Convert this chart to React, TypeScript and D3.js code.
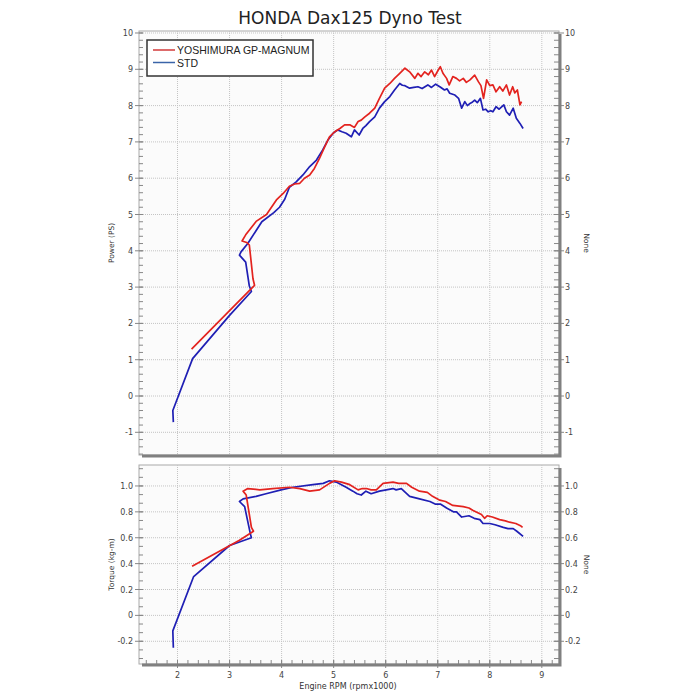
import * as d3 from "d3";
import { useEffect, useRef } from "react";

type Pt = [number, number];

// rpm (x1000), value
const stdPower: Pt[] = [
  [1.92, -0.72], [1.91, -0.4], [2.29, 1.03], [3.0, 2.22], [3.42, 2.88], [3.38, 3.03],
  [3.31, 3.69], [3.19, 3.88], [3.22, 3.97], [3.35, 4.2], [3.62, 4.8], [3.85, 5.05],
  [3.96, 5.2], [4.06, 5.42], [4.15, 5.75], [4.28, 5.9], [4.41, 6.09], [4.54, 6.32],
  [4.67, 6.5], [4.79, 6.78], [4.89, 7.05], [4.99, 7.24], [5.08, 7.33], [5.16, 7.28],
  [5.24, 7.24], [5.34, 7.14], [5.4, 7.33], [5.49, 7.19], [5.56, 7.37], [5.62, 7.45],
  [5.69, 7.56], [5.79, 7.69], [5.88, 7.93], [5.98, 8.11], [6.08, 8.25], [6.17, 8.43],
  [6.27, 8.61], [6.32, 8.56], [6.37, 8.55], [6.46, 8.48], [6.54, 8.5], [6.62, 8.52],
  [6.7, 8.47], [6.81, 8.57], [6.88, 8.5], [6.96, 8.59], [7.04, 8.52], [7.13, 8.43],
  [7.18, 8.46], [7.23, 8.34], [7.33, 8.29], [7.4, 8.2], [7.46, 7.93], [7.52, 8.11],
  [7.57, 8.0], [7.62, 8.06], [7.67, 8.1], [7.71, 8.15], [7.76, 8.08], [7.82, 8.2],
  [7.87, 7.88], [7.92, 7.9], [7.97, 7.83], [8.02, 7.86], [8.06, 7.83], [8.12, 7.97],
  [8.18, 7.9], [8.27, 8.02], [8.32, 7.83], [8.38, 7.74], [8.45, 7.93], [8.51, 7.65],
  [8.58, 7.51], [8.64, 7.37],
];

const yoshPower: Pt[] = [
  [2.27, 1.29], [3.0, 2.35], [3.48, 3.05], [3.45, 3.23], [3.38, 4.16], [3.33, 4.23],
  [3.24, 4.27], [3.31, 4.44], [3.51, 4.81], [3.71, 5.0], [3.9, 5.4], [4.03, 5.58],
  [4.15, 5.78], [4.25, 5.84], [4.35, 5.86], [4.44, 6.0], [4.54, 6.09], [4.63, 6.27],
  [4.73, 6.55], [4.83, 6.87], [4.92, 7.14], [5.02, 7.28], [5.12, 7.37], [5.21, 7.47],
  [5.31, 7.47], [5.4, 7.4], [5.47, 7.56], [5.53, 7.6], [5.6, 7.69], [5.69, 7.79],
  [5.79, 7.93], [5.88, 8.2], [5.98, 8.48], [6.08, 8.61], [6.17, 8.75], [6.27, 8.89],
  [6.37, 9.03], [6.46, 8.93], [6.56, 8.75], [6.62, 8.89], [6.68, 8.8], [6.75, 8.93],
  [6.82, 8.85], [6.88, 8.98], [6.94, 8.8], [7.01, 8.98], [7.05, 9.07], [7.1, 8.89],
  [7.17, 8.75], [7.22, 8.57], [7.29, 8.8], [7.36, 8.75], [7.42, 8.68], [7.49, 8.75],
  [7.55, 8.64], [7.62, 8.71], [7.71, 8.84], [7.78, 8.66], [7.83, 8.55], [7.88, 8.2],
  [7.94, 8.71], [8.0, 8.55], [8.06, 8.57], [8.12, 8.38], [8.19, 8.52], [8.25, 8.4],
  [8.32, 8.57], [8.38, 8.29], [8.44, 8.52], [8.48, 8.35], [8.53, 8.43], [8.58, 8.02],
  [8.61, 8.11],
];

const stdTorque: Pt[] = [
  [1.92, -0.25], [1.91, -0.12], [2.31, 0.3], [3.0, 0.54], [3.42, 0.6], [3.4, 0.63],
  [3.29, 0.84], [3.19, 0.88], [3.26, 0.9], [3.51, 0.92], [3.7, 0.94], [3.99, 0.97],
  [4.22, 0.99], [4.6, 1.01], [4.8, 1.02], [4.92, 1.04], [5.05, 1.03], [5.24, 0.99],
  [5.37, 0.96], [5.45, 0.94], [5.53, 0.93], [5.62, 0.96], [5.72, 0.94], [5.88, 0.96],
  [6.01, 0.97], [6.14, 0.98], [6.2, 0.97], [6.3, 0.98], [6.46, 0.92], [6.65, 0.9],
  [6.85, 0.88], [6.95, 0.86], [7.05, 0.86], [7.17, 0.83], [7.3, 0.8], [7.36, 0.8],
  [7.46, 0.76], [7.6, 0.77], [7.7, 0.75], [7.81, 0.74], [7.87, 0.71], [8.0, 0.71],
  [8.1, 0.7], [8.26, 0.68], [8.35, 0.67], [8.45, 0.67], [8.52, 0.65], [8.64, 0.61],
];

const yoshTorque: Pt[] = [
  [2.28, 0.38], [3.19, 0.58], [3.46, 0.65], [3.42, 0.68], [3.32, 0.93], [3.26, 0.96],
  [3.35, 0.98], [3.58, 0.97], [3.83, 0.98], [4.15, 0.99], [4.35, 0.98], [4.54, 0.96],
  [4.73, 0.97], [4.92, 1.02], [5.02, 1.04], [5.15, 1.03], [5.31, 1.01], [5.47, 0.97],
  [5.55, 0.98], [5.63, 0.98], [5.72, 0.97], [5.82, 0.97], [5.95, 1.02], [6.14, 1.03],
  [6.25, 1.02], [6.4, 1.02], [6.5, 0.99], [6.65, 0.96], [6.8, 0.95], [6.9, 0.92],
  [7.04, 0.89], [7.15, 0.88], [7.29, 0.85], [7.49, 0.84], [7.6, 0.83], [7.68, 0.81],
  [7.84, 0.78], [7.9, 0.75], [7.95, 0.77], [8.05, 0.76], [8.19, 0.74], [8.3, 0.73],
  [8.38, 0.72], [8.5, 0.71], [8.6, 0.69], [8.63, 0.68],
];

const rpmTicks = [2, 3, 4, 5, 6, 7, 8, 9];
const powerTicks = [-1, 0, 1, 2, 3, 4, 5, 6, 7, 8, 9, 10];
const torqueTicks = [-0.2, 0, 0.2, 0.4, 0.6, 0.8, 1.0];
const seriesNames = ["YOSHIMURA GP-MAGNUM", "STD"];

const RED = "#e3231f";
const BLUE = "#1f1fb4";
const FONT = "'DejaVu Sans', sans-serif";

export default function App() {
  const svgRef = useRef<SVGSVGElement>(null);

  useEffect(() => {
    if (!svgRef.current) return;
    const svg = d3.select(svgRef.current);
    svg.selectAll("*").remove();

    const left = 139;
    const right = 559;

    const x = d3.scaleLinear().domain([1.26, 9.33]).range([left, right]);

    svg.append("rect").attr("width", 700).attr("height", 700).attr("fill", "#fff");

    svg
      .append("text")
      .attr("x", 350)
      .attr("y", 24)
      .attr("text-anchor", "middle")
      .attr("font-family", FONT)
      .attr("font-size", 17)
      .attr("fill", "#222")
      .text("HONDA Dax125 Dyno Test");

    const panel = (
      top: number,
      bottom: number,
      y: d3.ScaleLinear<number, number>,
      ticks: number[],
      minorStep: number,
      fmt: (v: number) => string,
      title: string,
      showX: boolean
    ) => {
      const g = svg.append("g");
      g.append("rect")
        .attr("x", left)
        .attr("y", top)
        .attr("width", right - left)
        .attr("height", bottom - top)
        .attr("fill", "#fbfbfb")
        .attr("stroke", "#aaa")
        .attr("stroke-width", 1);

      // grid
      g.selectAll(".vg")
        .data(rpmTicks)
        .enter()
        .append("line")
        .attr("x1", (d) => x(d))
        .attr("x2", (d) => x(d))
        .attr("y1", top)
        .attr("y2", bottom)
        .attr("stroke", "#c4c4c4")
        .attr("stroke-dasharray", "1,1");
      g.selectAll(".hg")
        .data(ticks)
        .enter()
        .append("line")
        .attr("x1", left)
        .attr("x2", right)
        .attr("y1", (d) => y(d))
        .attr("y2", (d) => y(d))
        .attr("stroke", "#c4c4c4")
        .attr("stroke-dasharray", "1,1");

      // minor ticks
      const [d0, d1] = y.domain();
      const minors: number[] = [];
      for (let v = ticks[0]; v >= d0; v -= minorStep) minors.push(v);
      for (let v = ticks[0] + minorStep; v <= d1; v += minorStep) minors.push(v);
      g.selectAll(".ml")
        .data(minors)
        .enter()
        .append("line")
        .attr("x1", left)
        .attr("x2", left + 4)
        .attr("y1", (d) => y(d))
        .attr("y2", (d) => y(d))
        .attr("stroke", "#888");
      g.selectAll(".mr")
        .data(minors)
        .enter()
        .append("line")
        .attr("x1", right - 5)
        .attr("x2", right)
        .attr("y1", (d) => y(d))
        .attr("y2", (d) => y(d))
        .attr("stroke", "#888");
      // major ticks
      g.selectAll(".tl")
        .data(ticks)
        .enter()
        .append("line")
        .attr("x1", left - 4)
        .attr("x2", left + 4)
        .attr("y1", (d) => y(d))
        .attr("y2", (d) => y(d))
        .attr("stroke", "#888");
      g.selectAll(".tr")
        .data(ticks)
        .enter()
        .append("line")
        .attr("x1", right - 5)
        .attr("x2", right + 5)
        .attr("y1", (d) => y(d))
        .attr("y2", (d) => y(d))
        .attr("stroke", "#888");

      g.selectAll(".ll")
        .data(ticks)
        .enter()
        .append("text")
        .attr("x", left - 6)
        .attr("y", (d) => y(d) + 3)
        .attr("text-anchor", "end")
        .attr("font-family", FONT)
        .attr("font-size", 8)
        .attr("fill", "#444")
        .text((d) => fmt(d));
      g.selectAll(".lr")
        .data(ticks)
        .enter()
        .append("text")
        .attr("x", right + 6)
        .attr("y", (d) => y(d) + 3)
        .attr("text-anchor", "start")
        .attr("font-family", FONT)
        .attr("font-size", 8)
        .attr("fill", "#444")
        .text((d) => fmt(d));

      const mid = (top + bottom) / 2;
      g.append("text")
        .attr("transform", `translate(114,${mid}) rotate(-90)`)
        .attr("text-anchor", "middle")
        .attr("font-family", FONT)
        .attr("font-size", 7.5)
        .attr("fill", "#333")
        .text(title);
      g.append("text")
        .attr("transform", `translate(584,${mid}) rotate(90)`)
        .attr("text-anchor", "middle")
        .attr("font-family", FONT)
        .attr("font-size", 7.5)
        .attr("fill", "#333")
        .text("None");

      if (showX) {
        const xm = d3.range(1.4, 9.3, 0.2);
        g.selectAll(".xm")
          .data(xm)
          .enter()
          .append("line")
          .attr("x1", (d) => x(d))
          .attr("x2", (d) => x(d))
          .attr("y1", bottom - 4)
          .attr("y2", bottom)
          .attr("stroke", "#888");
        g.selectAll(".xt")
          .data(rpmTicks)
          .enter()
          .append("line")
          .attr("x1", (d) => x(d))
          .attr("x2", (d) => x(d))
          .attr("y1", bottom - 4)
          .attr("y2", bottom + 4)
          .attr("stroke", "#888");
        g.selectAll(".xl")
          .data(rpmTicks)
          .enter()
          .append("text")
          .attr("x", (d) => x(d))
          .attr("y", bottom + 14)
          .attr("text-anchor", "middle")
          .attr("font-family", FONT)
          .attr("font-size", 8)
          .attr("fill", "#444")
          .text((d) => String(d));
        g.append("text")
          .attr("x", 348)
          .attr("y", bottom + 25)
          .attr("text-anchor", "middle")
          .attr("font-family", FONT)
          .attr("font-size", 8)
          .attr("fill", "#333")
          .text("Engine RPM (rpmx1000)");
      }

      // shadow edge right/bottom
      g.append("path")
        .attr("d", `M${right + 1},${top + 3}V${bottom + 1}H${left + 3}`)
        .attr("fill", "none")
        .attr("stroke", "#808080")
        .attr("stroke-width", 3);
      return g;
    };

    const yP = d3.scaleLinear().domain([-1.625, 10.055]).range([455, 31]);
    const yT = d3.scaleLinear().domain([-0.3756, 1.162]).range([664, 465]);

    const gP = panel(yP.range()[1], yP.range()[0], yP, powerTicks, 0.2, (v) => String(v), "Power (PS)", false);
    const gT = panel(465, 664, yT, torqueTicks, 0.2 / 3, (v) => (v === 0 ? "0" : v.toFixed(1)), "Torque (kg-m)", true);

    const drawLine = (g: typeof gP, data: Pt[], y: d3.ScaleLinear<number, number>, color: string) => {
      const line = d3
        .line<Pt>()
        .x((d) => x(d[0]))
        .y((d) => y(d[1]));
      g.append("path")
        .attr("d", line(data) ?? "")
        .attr("fill", "none")
        .attr("stroke", color)
        .attr("stroke-width", 1.7)
        .attr("stroke-linejoin", "round");
    };

    drawLine(gP, stdPower, yP, BLUE);
    drawLine(gP, yoshPower, yP, RED);
    drawLine(gT, stdTorque, yT, BLUE);
    drawLine(gT, yoshTorque, yT, RED);

    // legend
    const lg = svg.append("g");
    lg.append("rect")
      .attr("x", 147)
      .attr("y", 40)
      .attr("width", 166)
      .attr("height", 36)
      .attr("fill", "#fff")
      .attr("stroke", "#333")
      .attr("stroke-width", 1.5);
    const legendColors = ["#d23a3a", "#3a64a8"];
    seriesNames.forEach((name, i) => {
      const ly = 50 + i * 12.5;
      lg.append("line")
        .attr("x1", 153)
        .attr("x2", 175)
        .attr("y1", ly)
        .attr("y2", ly)
        .attr("stroke", legendColors[i])
        .attr("stroke-width", 1.5);
      lg.append("text")
        .attr("x", 177)
        .attr("y", ly + 4)
        .attr("font-family", "'Liberation Sans', Arial, sans-serif")
        .attr("font-size", 10.5)
        .attr("fill", "#222")
        .text(name);
    });
  }, []);

  return (
    <svg
      ref={svgRef}
      width={700}
      height={700}
      style={{ position: "absolute", left: 0, top: 0, display: "block" }}
    ></svg>
  );
}
